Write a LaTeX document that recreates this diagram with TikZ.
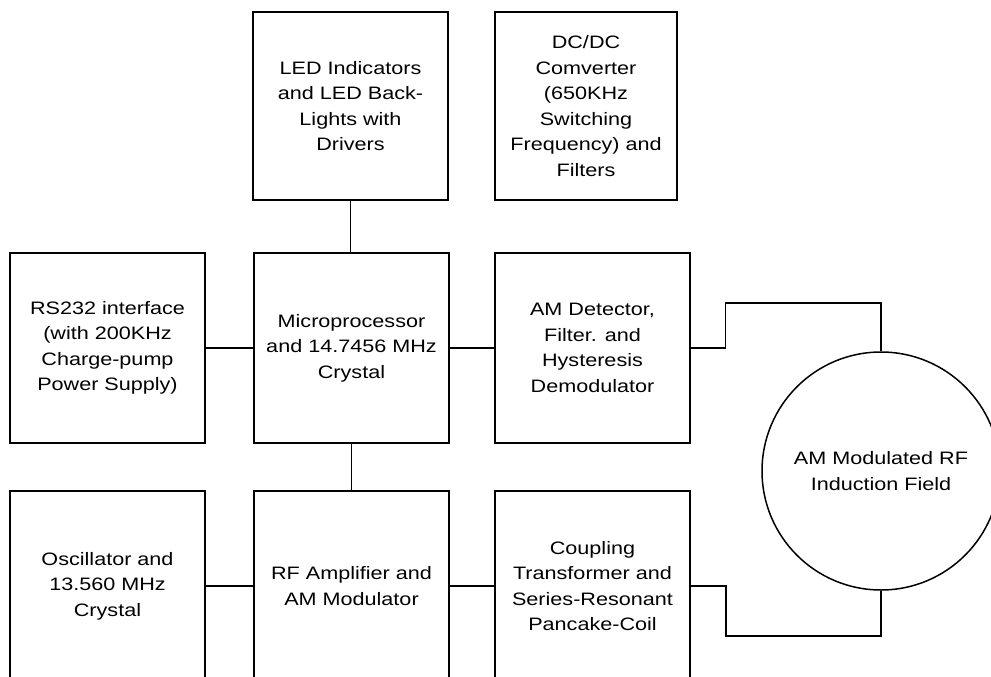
\documentclass[tikz,border=0pt]{standalone}
\usepackage{fontspec}
\setmainfont{Liberation Sans}[FakeStretch=1.2]
\usepackage{tikz}
\usetikzlibrary{positioning}

\begin{document}
\begin{tikzpicture}[
  x=1pt, y=-1pt,
  font=\fontsize{18}{25.5}\selectfont,
  blk/.style={draw=black, line width=1.5pt, minimum width=195pt,
              minimum height=190pt, align=center, inner sep=2pt},
  fld/.style={circle, draw=black, line width=1.5pt, minimum size=238pt,
              align=center, inner sep=0pt},
  wire/.style={draw=black, line width=1.1pt},
  bus/.style={draw=black, line width=2.2pt},
]
\useasboundingbox (0,0) rectangle (991,677);

% ===================== TOP row =====================
\node[blk, minimum height=188pt] (led)  at (350.5,106) {LED Indicators\\and LED Back-\\Lights with\\Drivers};
\node[blk, minimum height=188pt, minimum width=182pt] (dcdc) at (586,106)
  {DC/DC\\Comverter\\(650KHz\\Switching\\Frequency) and\\Filters};

% ===================== MIDDLE row =====================
\node[blk] (rs)    at (107.5,348) {RS232 interface\\(with 200KHz\\Charge-pump\\Power Supply)};
\node[blk] (mcu)   at (351.5,348) {Microprocessor\\and 14.7456 MHz\\Crystal};
\node[blk] (amdet) at (592.5,348) {AM Detector,\\Filter. and\\Hysteresis\\Demodulator};

% ===================== BOTTOM row =====================
\node[blk] (osc)   at (107.5,586) {Oscillator and\\13.560 MHz\\Crystal};
\node[blk] (rfamp) at (351.5,586) {RF Amplifier and\\AM Modulator};
\node[blk] (coup)  at (592.5,586) {Coupling\\Transformer and\\Series-Resonant\\Pancake-Coil};

% field
\node[fld] (field) at (881,471) {AM Modulated RF\\Induction Field};

% connections
\draw[wire] (led.south) -- (mcu.north -| led.south);
\draw[wire] (rs.east)   -- (mcu.west);
\draw[wire] (mcu.east)  -- (amdet.west);
\draw[wire] (mcu.south) -- (rfamp.north);
\draw[bus]  (osc.east)  -- (rfamp.west);
\draw[bus]  (rfamp.east) -- (coup.west);

% coil loop to the induction field
\draw[wire] (amdet.east) -- ++(35,0) -- ++(0,-45) -| (field.north);
\draw[bus, line width=1.8pt] (coup.east) -- ++(35,0) -- ++(0,50) -| (field.south);

\end{tikzpicture}
\end{document}
